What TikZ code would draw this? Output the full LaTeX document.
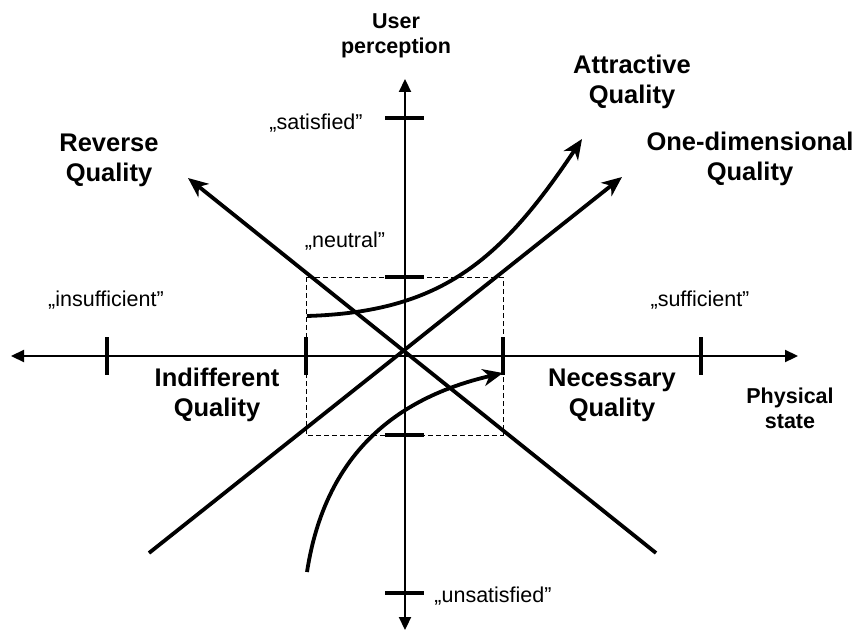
\documentclass[tikz,border=0pt]{standalone}
\usepackage{fontspec}
\setmainfont{Liberation Sans}
\usetikzlibrary{arrows.meta}
\begin{document}
\begin{tikzpicture}[x=1pt,y=-1pt,
  axisline/.style={line width=2.2pt,{Triangle[length=13pt,width=12pt]}-{Triangle[length=13pt,width=12pt]}},
  tickmark/.style={line width=4.5pt},
  qline/.style={line width=3.8pt,line cap=butt},
  qarrow/.style={line width=3.8pt,-{Stealth[length=20pt,width=17pt,inset=6pt]}},
  dashbox/.style={line width=1pt,dash pattern=on 5pt off 3pt},
  biglab/.style={font=\bfseries\fontsize{25.5}{30}\selectfont,align=center,inner sep=0pt},
  smalllab/.style={font=\bfseries\fontsize{21.5}{25}\selectfont,align=center,inner sep=0pt},
  quotelab/.style={font=\fontsize{21.5}{25}\selectfont,inner sep=0pt,anchor=base}]
\useasboundingbox (0,0) rectangle (858,631);
% axes
\coordinate (hL) at (11,356);
\coordinate (hR) at (798,356);
\coordinate (vT) at (405,79);
\coordinate (vB) at (405,630);
\draw[axisline] (hL) -- (hR);
\draw[axisline] (vB) -- (vT);
% ticks on horizontal axis
\foreach \x in {107,306,503,701} \draw[tickmark] (\x,337) -- (\x,375);
% ticks on vertical axis
\foreach \y in {118,277,435,593} \draw[tickmark] (385,\y) -- (424,\y);
% dashed box
\draw[dashbox] (306,277) rectangle (503,435);
% diagonals
\coordinate (revS) at (656,553);
\coordinate (revE) at (188,178);
\coordinate (oneS) at (149,553);
\coordinate (oneE) at (622,177);
\draw[qarrow] (revS) -- (revE);
\draw[qarrow] (oneS) -- (oneE);
% curves
\coordinate (attS) at (307,316);
\coordinate (attE) at (582,139);
\draw[qarrow] (attS) .. controls (440,312) and (500,262) .. (attE);
\coordinate (necS) at (307,572);
\coordinate (necE) at (503,373);
\draw[qarrow] (necS) .. controls (325,455) and (395,398) .. (necE);
% labels
\node[smalllab] (userp) at (396,36) {User\\perception};
\node[smalllab] (phys) at (790,408) {Physical\\state};
\node[biglab] (rev) at (109,160.5) {Reverse\\Quality};
\node[biglab] (att) at (632,81.5) {Attractive\\Quality};
\node[biglab] (one) at (750,158.5) {One-dimensional\\Quality};
\node[biglab] (ind) at (217,395) {Indifferent\\Quality};
\node[biglab] (nec) at (612,395.5) {Necessary\\Quality};
\node[quotelab] (sat) at (316,130) {„satisfied”};
\node[quotelab] (neu) at (345,247) {„neutral”};
\node[quotelab] (insuf) at (106,306) {„insufficient”};
\node[quotelab] (suf) at (700,306) {„sufficient”};
\node[quotelab] (unsat) at (493,602) {„unsatisfied”};
\end{tikzpicture}
\end{document}
